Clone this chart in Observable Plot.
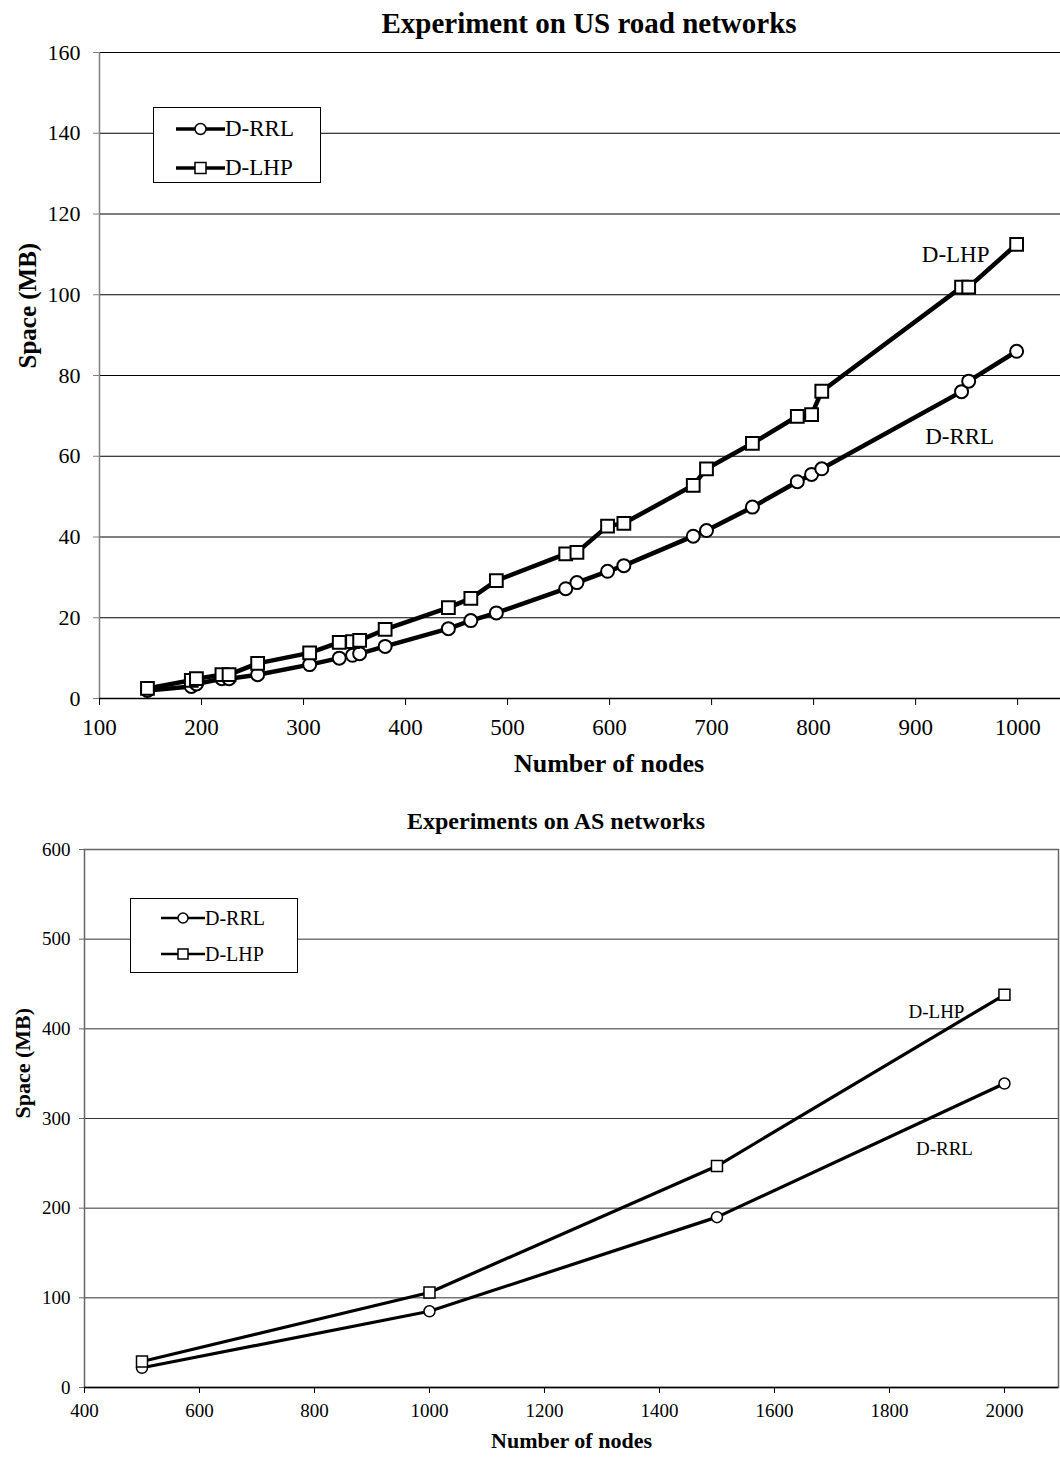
<!DOCTYPE html>
<html>
<head>
<meta charset="utf-8">
<script src="https://cdn.jsdelivr.net/npm/d3@7"></script>
<script src="https://cdn.jsdelivr.net/npm/@observablehq/plot@0.6"></script>
<style>
  body { margin: 0; background: #fff; }
  #root { position: relative; width: 1060px; height: 1461px; font-family: "Liberation Serif", "Times New Roman", serif; color: #000; overflow: hidden; }
  #root svg text { font-family: "Liberation Serif", "Times New Roman", serif; }
  .title { position: absolute; font-weight: bold; white-space: nowrap; transform: translateX(-50%); }
  .chart { position: absolute; left: 0; }
  .legend { position: absolute; background: #fff; border: 1.5px solid #000; box-sizing: border-box; }
  .legend .row { position: absolute; display: flex; align-items: center; white-space: nowrap; }
</style>
</head>
<body>
<div id="root">
  <div class="title" id="t1" style="left:589px; top:6px; font-size:29px; line-height:34px;">Experiment on US road networks</div>
  <div class="chart" id="c1" style="top:40px;"></div>
  <div class="legend" id="l1" style="left:153px; top:107px; width:168px; height:76px;"></div>
  <div class="title" id="t2" style="left:556px; top:806px; font-size:24px; line-height:30px;">Experiments on AS networks</div>
  <div class="chart" id="c2" style="top:836px;"></div>
  <div class="legend" id="l2" style="left:130px; top:898px; width:168px; height:75px;"></div>
</div>
<script>
// ---- data ----
const seriesNames = ["D-RRL", "D-LHP"];

// US road networks
const roadNodes = [147, 190, 195, 220, 227, 255, 306, 335, 348, 355, 380, 442, 464, 489, 557, 568, 598, 614, 682, 695, 740, 784, 798, 808, 945, 952, 999];
const roadRRL   = [2.0, 3.0, 3.6, 4.9, 4.9, 5.9, 8.4, 10.0, 10.7, 11.1, 12.9, 17.3, 19.3, 21.2, 27.2, 28.7, 31.5, 32.9, 40.2, 41.6, 47.4, 53.7, 55.5, 56.9, 76.0, 78.6, 86.0];
const roadLHP   = [2.5, 4.5, 4.9, 5.9, 5.9, 8.7, 11.3, 13.9, 14.1, 14.4, 17.1, 22.5, 24.8, 29.2, 35.8, 36.2, 42.7, 43.4, 52.8, 56.9, 63.2, 69.9, 70.3, 76.1, 101.9, 101.9, 112.5];
const roadXTicks = [100, 200, 300, 400, 500, 600, 700, 800, 900, 1000];
const roadYTicks = [0, 20, 40, 60, 80, 100, 120, 140, 160];

// AS networks
const asNodes = [500, 1000, 1500, 2000];
const asRRL   = [22, 85, 190, 339];
const asLHP   = [29, 106, 247, 438];
const asXTicks = [400, 600, 800, 1000, 1200, 1400, 1600, 1800, 2000];
const asYTicks = [0, 100, 200, 300, 400, 500, 600];

// tidy tables
const road = roadNodes.flatMap((n, i) => [
  {n, v: roadRRL[i], s: seriesNames[0]},
  {n, v: roadLHP[i], s: seriesNames[1]}
]);
const as = asNodes.flatMap((n, i) => [
  {n, v: asRRL[i], s: seriesNames[0]},
  {n, v: asLHP[i], s: seriesNames[1]}
]);
const lastOf = (data, s) => data.filter(d => d.s === s).slice(-1);
const fmt = d => String(d);
const font = "'Liberation Serif', 'Times New Roman', serif";

// ---- top chart ----
const chart1 = Plot.plot({
  width: 1060, height: 760,
  marginTop: 12, marginBottom: 102, marginLeft: 99, marginRight: 0,
  style: {fontFamily: font, background: "transparent", color: "#000"},
  x: {domain: [100, 1042]},
  y: {domain: [0, 160]},
  marks: [
    Plot.gridY(roadYTicks, {stroke: "#000", strokeOpacity: 1, strokeWidth: 1}),
    Plot.ruleX([100], {stroke: "#808080", strokeWidth: 1.5}),
    Plot.ruleY([0], {stroke: "#000", strokeWidth: 1.5}),
    Plot.axisY({ticks: roadYTicks, tickFormat: fmt, tickSize: 6, tickPadding: 13, fontSize: 22, fontFamily: font, label: null, stroke: "#808080", fill: "#000"}),
    Plot.axisX({ticks: roadXTicks, tickFormat: fmt, tickSize: 7, tickPadding: 13, fontSize: 23, fontFamily: font, label: null, stroke: "#000", fill: "#000"}),
    Plot.line(road, {x: "n", y: "v", z: "s", stroke: "#000", strokeWidth: 4.5}),
    Plot.dot(road.filter(d => d.s === "D-RRL"), {x: "n", y: "v", symbol: "circle", r: 6.5, fill: "#fff", stroke: "#000", strokeWidth: 2}),
    Plot.dot(road.filter(d => d.s === "D-LHP"), {x: "n", y: "v", symbol: "square", r: 7.2, fill: "#fff", stroke: "#000", strokeWidth: 2}),
    Plot.text(lastOf(road, "D-LHP"), {x: "n", y: "v", text: "s", dx: -61, dy: 10, fontSize: 23, fontFamily: font}),
    Plot.text(lastOf(road, "D-RRL"), {x: "n", y: "v", text: "s", dx: -57, dy: 85, fontSize: 23, fontFamily: font}),
    Plot.text(["Number of nodes"], {frameAnchor: "bottom", dx: 29, dy: 73, fontSize: 26, fontWeight: "bold", fontFamily: font}),
    Plot.text(["Space (MB)"], {frameAnchor: "left", dx: -72, dy: -7, rotate: -90, fontSize: 25, fontWeight: "bold", fontFamily: font})
  ]
});
document.getElementById("c1").appendChild(chart1);

// ---- bottom chart ----
const chart2 = Plot.plot({
  width: 1060, height: 625,
  marginTop: 13, marginBottom: 74, marginLeft: 84, marginRight: 2,
  style: {fontFamily: font, background: "transparent", color: "#000"},
  x: {domain: [400, 2094]},
  y: {domain: [0, 600]},
  marks: [
    Plot.gridY(asYTicks, {stroke: "#333", strokeOpacity: 1, strokeWidth: 1}),
    Plot.frame({stroke: "#666", strokeWidth: 1.5}),
    Plot.ruleY([0], {stroke: "#000", strokeWidth: 1.5}),
    Plot.axisY({ticks: asYTicks, tickFormat: fmt, tickSize: 5, tickPadding: 9, fontSize: 19, fontFamily: font, label: null, stroke: "#666", fill: "#000"}),
    Plot.axisX({ticks: asXTicks, tickFormat: fmt, tickSize: 6, tickPadding: 10, fontSize: 19, fontFamily: font, label: null, stroke: "#000", fill: "#000"}),
    Plot.line(as, {x: "n", y: "v", z: "s", stroke: "#000", strokeWidth: 3.2}),
    Plot.dot(as.filter(d => d.s === "D-RRL"), {x: "n", y: "v", symbol: "circle", r: 5.5, fill: "#fff", stroke: "#000", strokeWidth: 1.5}),
    Plot.dot(as.filter(d => d.s === "D-LHP"), {x: "n", y: "v", symbol: "square", r: 6.2, fill: "#fff", stroke: "#000", strokeWidth: 1.5}),
    Plot.text(lastOf(as, "D-LHP"), {x: "n", y: "v", text: "s", dx: -68, dy: 17, fontSize: 19, fontFamily: font}),
    Plot.text(lastOf(as, "D-RRL"), {x: "n", y: "v", text: "s", dx: -60, dy: 65, fontSize: 19, fontFamily: font}),
    Plot.text(["Number of nodes"], {frameAnchor: "bottom", dx: 0, dy: 60, fontSize: 22, fontWeight: "bold", fontFamily: font}),
    Plot.text(["Space (MB)"], {frameAnchor: "left", dx: -62, dy: 0, rotate: -90, fontSize: 22, fontWeight: "bold", fontFamily: font})
  ]
});
document.getElementById("c2").appendChild(chart2);

// ---- legends (HTML) ----
function legend(el, opts) {
  seriesNames.forEach((name, i) => {
    const row = document.createElement("div");
    row.className = "row";
    row.style.left = opts.left + "px";
    row.style.top = (opts.rows[i] - opts.h / 2) + "px";
    row.style.height = opts.h + "px";
    const w = opts.lineLen;
    const marker = name === "D-RRL"
      ? `<circle cx="${w/2}" cy="${opts.h/2}" r="${opts.r}" fill="#fff" stroke="#000" stroke-width="1.5"/>`
      : `<rect x="${w/2 - opts.r}" y="${opts.h/2 - opts.r}" width="${2*opts.r}" height="${2*opts.r}" fill="#fff" stroke="#000" stroke-width="1.5"/>`;
    row.innerHTML = `<svg width="${w}" height="${opts.h}" style="display:block"><line x1="0" x2="${w}" y1="${opts.h/2}" y2="${opts.h/2}" stroke="#000" stroke-width="${opts.sw}"/>${marker}</svg><span style="font-size:${opts.fs}px;line-height:${opts.h}px">${name}</span>`;
    el.appendChild(row);
  });
}
legend(document.getElementById("l1"), {left: 22, rows: [21, 60], h: 30, lineLen: 49, r: 5.5, sw: 3.5, fs: 23});
legend(document.getElementById("l2"), {left: 30, rows: [19, 55], h: 28, lineLen: 44, r: 5, sw: 2.5, fs: 20});
</script>
</body>
</html>
